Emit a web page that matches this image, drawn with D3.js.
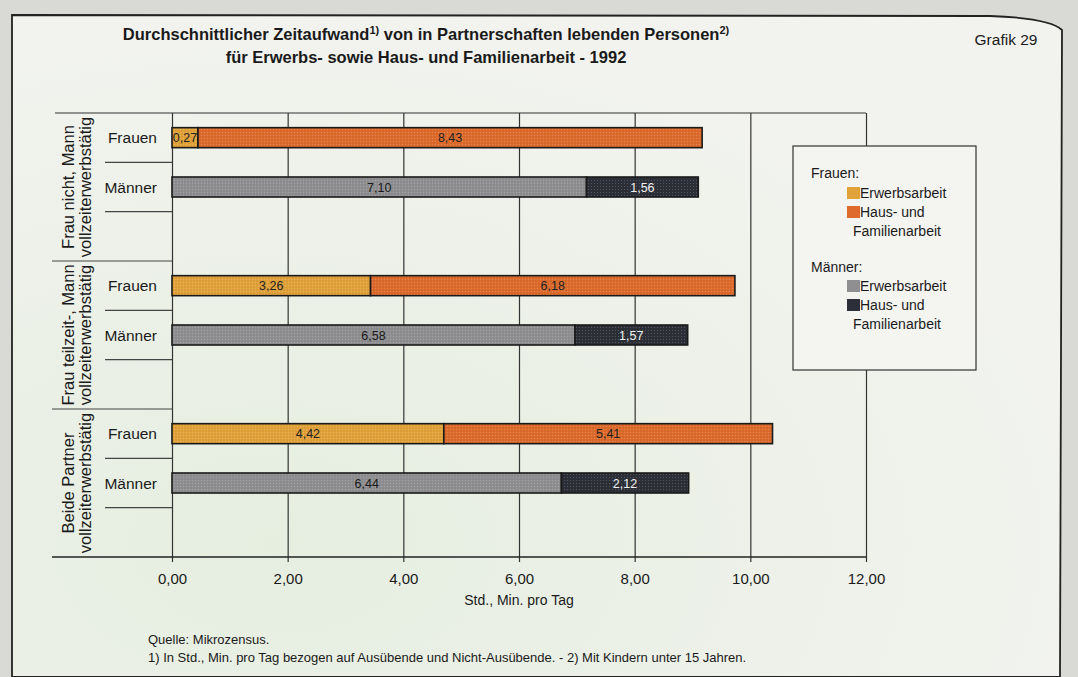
<!DOCTYPE html>
<html>
<head>
<meta charset="utf-8">
<script src="https://cdn.jsdelivr.net/npm/d3@7"></script>
<style>
  html, body { margin: 0; padding: 0; background: #dcdcd8; }
  svg { display: block; font-family: "Liberation Sans", Arial, sans-serif; }
</style>
</head>
<body>
<svg id="chart" width="1078" height="677"></svg>
<script>
// Time per day in "hours,minutes" as printed on the bars
const groupLines = [
  ["Frau nicht, Mann", "vollzeiterwerbstätig"],
  ["Frau teilzeit-, Mann", "vollzeiterwerbstätig"],
  ["Beide Partner", "vollzeiterwerbstätig"]
];
const persons = ["Frauen", "Männer"];
const frauenErwerb = ["0,27", "3,26", "4,42"];
const frauenHaus = ["8,43", "6,18", "5,41"];
const maennerErwerb = ["7,10", "6,58", "6,44"];
const maennerHaus = ["1,56", "1,57", "2,12"];
const xTicks = [0, 2, 4, 6, 8, 10, 12];

const colors = {
  frauenErwerb: "#e2a23a",
  frauenHaus: "#de6b2c",
  maennerErwerb: "#8f8f92",
  maennerHaus: "#2d2f38"
};

// "8,43" -> 8 h 43 min -> decimal hours
const toHours = s => { const [h, m] = s.split(",").map(Number); return h + m / 60; };
const deLocale = d3.formatLocale({ decimal: ",", thousands: ".", grouping: [3], currency: ["", " €"] });
const fmt = deLocale.format(".2f");

const svg = d3.select("#chart");
const W = 1078, H = 677;

// page background
const defs = svg.append("defs");
const bg = defs.append("radialGradient").attr("id", "paper").attr("cx", "25%").attr("cy", "80%").attr("r", "80%");
bg.append("stop").attr("offset", "0%").attr("stop-color", "#e6eee0");
bg.append("stop").attr("offset", "100%").attr("stop-color", "#f2f3ef");

// fine print screen on the bars
const dots = defs.append("pattern").attr("id", "screen").attr("width", 3).attr("height", 3)
  .attr("patternUnits", "userSpaceOnUse");
dots.append("rect").attr("width", 1).attr("height", 1).attr("fill", "#fff").attr("opacity", 0.18);
dots.append("rect").attr("x", 1.5).attr("y", 1.5).attr("width", 1).attr("height", 1).attr("fill", "#000").attr("opacity", 0.12);

svg.append("rect").attr("width", W).attr("height", H).attr("fill", "#d9d9d6");
svg.append("path")
  .attr("d", "M12,677 L12,15 L990,16 Q1050,18 1062,30 L1060,677 Z")
  .attr("fill", "url(#paper)")
  .attr("stroke", "#222").attr("stroke-width", 1.8);

// layout
const plotLeft = 172, plotRight = 866, plotTop = 113, plotBottom = 557;
const x = d3.scaleLinear().domain([0, 12]).range([plotLeft, plotRight]);

const slotKeys = [];
groupLines.forEach((g, i) => { slotKeys.push(i + "-Frauen", i + "-Männer", i + "-gap"); });
const y = d3.scaleBand().domain(slotKeys).range([plotTop, plotBottom]);
const barH = 20;

// vertical grid lines with short ticks below the axis
const grid = svg.append("g")
  .attr("transform", `translate(0,${plotBottom})`)
  .call(d3.axisBottom(x).tickValues(xTicks).tickSize(-(plotBottom - plotTop)).tickSizeOuter(0).tickFormat(fmt).tickPadding(16));
grid.select(".domain").remove();
grid.selectAll(".tick line").attr("stroke", "#333").attr("stroke-width", 1.2).attr("y2", -(plotBottom - plotTop)).attr("y1", 5);
grid.selectAll(".tick text").attr("font-size", 15).attr("fill", "#1a1a1a")
  .attr("font-family", "'Liberation Sans', Arial, sans-serif");

// top and bottom rules
svg.append("line").attr("x1", 55).attr("x2", plotRight).attr("y1", plotTop).attr("y2", plotTop)
  .attr("stroke", "#333").attr("stroke-width", 1.2);
svg.append("line").attr("x1", 52).attr("x2", plotRight).attr("y1", plotBottom).attr("y2", plotBottom)
  .attr("stroke", "#222").attr("stroke-width", 1.6);

// row separators in the label column
const sep = svg.append("g").attr("stroke", "#444").attr("stroke-width", 1.2);
groupLines.forEach((g, i) => {
  const yM = y(i + "-Männer"), yG = y(i + "-gap");
  sep.append("line").attr("x1", 105).attr("x2", plotLeft).attr("y1", yM).attr("y2", yM);
  sep.append("line").attr("x1", 105).attr("x2", plotLeft).attr("y1", yG).attr("y2", yG);
  if (i < groupLines.length - 1) {
    const yEnd = yG + y.bandwidth();
    sep.append("line").attr("x1", 52).attr("x2", plotLeft).attr("y1", yEnd).attr("y2", yEnd);
  }
});

// bars
const rows = [];
groupLines.forEach((g, i) => {
  rows.push({ key: i + "-Frauen", person: "Frauen",
    segs: [{ v: frauenErwerb[i], c: colors.frauenErwerb, t: "#222" }, { v: frauenHaus[i], c: colors.frauenHaus, t: "#222" }] });
  rows.push({ key: i + "-Männer", person: "Männer",
    segs: [{ v: maennerErwerb[i], c: colors.maennerErwerb, t: "#1a1a1a" }, { v: maennerHaus[i], c: colors.maennerHaus, t: "#f2f2f2" }] });
});

const bars = svg.append("g");
rows.forEach(r => {
  const cy = y(r.key) + y.bandwidth() / 2;
  let acc = 0;
  r.segs.forEach(s => {
    const h = toHours(s.v);
    const x0 = x(acc), x1 = x(acc + h);
    bars.append("rect")
      .attr("x", x0).attr("y", cy - barH / 2).attr("width", x1 - x0).attr("height", barH)
      .attr("fill", s.c);
    bars.append("rect")
      .attr("x", x0).attr("y", cy - barH / 2).attr("width", x1 - x0).attr("height", barH)
      .attr("fill", "url(#screen)").attr("stroke", "#1a1a1a").attr("stroke-width", 1.6);
    bars.append("text")
      .attr("x", (x0 + x1) / 2).attr("y", cy + 4.5)
      .attr("text-anchor", "middle").attr("font-size", 12.5).attr("fill", s.t)
      .text(s.v);
    acc += h;
  });
  svg.append("text").attr("x", 157).attr("y", cy + 5.5).attr("text-anchor", "end")
    .attr("font-size", 15.5).attr("fill", "#1a1a1a").text(r.person);
});

// rotated group labels
groupLines.forEach((g, i) => {
  const cy = y(i + "-Frauen") + 1.5 * y.bandwidth();
  const t = svg.append("text").attr("transform", `translate(0,${cy}) rotate(-90)`)
    .attr("text-anchor", "middle").attr("font-size", 16.5).attr("fill", "#1a1a1a");
  t.append("tspan").attr("x", 0).attr("y", 74).text(g[0]);
  t.append("tspan").attr("x", 0).attr("y", 91).text(g[1]);
});

// axis caption
svg.append("text").attr("x", x(6)).attr("y", 605).attr("text-anchor", "middle")
  .attr("font-size", 14).attr("fill", "#1a1a1a").text("Std., Min. pro Tag");

// legend
const lg = svg.append("g");
lg.append("rect").attr("x", 793).attr("y", 146).attr("width", 183).attr("height", 224)
  .attr("fill", "#f4f4f1").attr("stroke", "#333").attr("stroke-width", 1.2);
const legendItems = [
  { head: "Frauen:", y: 173, items: [
    { c: colors.frauenErwerb, lines: ["Erwerbsarbeit"], y: 193 },
    { c: colors.frauenHaus, lines: ["Haus- und", "Familienarbeit"], y: 212 }] },
  { head: "Männer:", y: 267, items: [
    { c: colors.maennerErwerb, lines: ["Erwerbsarbeit"], y: 286 },
    { c: colors.maennerHaus, lines: ["Haus- und", "Familienarbeit"], y: 305 }] }
];
legendItems.forEach(sec => {
  lg.append("text").attr("x", 811).attr("y", sec.y + 5).attr("font-size", 14).attr("fill", "#1a1a1a").text(sec.head);
  sec.items.forEach(it => {
    lg.append("rect").attr("x", 847).attr("y", it.y - 6).attr("width", 13).attr("height", 12).attr("fill", it.c);
    it.lines.forEach((ln, k) => {
      lg.append("text").attr("x", k === 0 ? 860 : 853).attr("y", it.y + 5 + k * 18.5)
        .attr("font-size", 14).attr("fill", "#1a1a1a").text(ln);
    });
  });
});

// title
const title = svg.append("text").attr("x", 426).attr("text-anchor", "middle")
  .attr("font-size", 16.5).attr("font-weight", "bold").attr("fill", "#1a1a1a");
const l1 = title.append("tspan").attr("x", 426).attr("y", 40);
l1.append("tspan").text("Durchschnittlicher Zeitaufwand");
l1.append("tspan").attr("font-size", 11).attr("dy", -6).text("1)");
l1.append("tspan").attr("dy", 6).text(" von in Partnerschaften lebenden Personen");
l1.append("tspan").attr("font-size", 11).attr("dy", -6).text("2)");
title.append("tspan").attr("x", 426).attr("y", 63).text("für Erwerbs- sowie Haus- und Familienarbeit - 1992");

svg.append("text").attr("x", 1006).attr("y", 45).attr("text-anchor", "middle")
  .attr("font-size", 15.5).attr("fill", "#1a1a1a").text("Grafik 29");

// notes
svg.append("text").attr("x", 148).attr("y", 644).attr("font-size", 13).attr("fill", "#1a1a1a").text("Quelle: Mikrozensus.");
svg.append("text").attr("x", 148).attr("y", 662).attr("font-size", 13).attr("fill", "#1a1a1a")
  .text("1) In Std., Min. pro Tag bezogen auf Ausübende und Nicht-Ausübende. - 2) Mit Kindern unter 15 Jahren.");
</script>
</body>
</html>
